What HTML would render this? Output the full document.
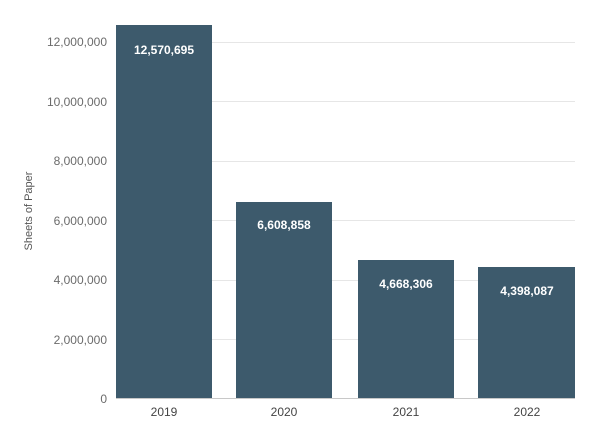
<!DOCTYPE html>
<html><head><meta charset="utf-8"><style>
html,body{margin:0;padding:0;background:#fff;}
svg text{font-family:"Liberation Sans",sans-serif;}
</style></head><body>
<svg width="600" height="432" viewBox="0 0 600 432" xmlns="http://www.w3.org/2000/svg">
<g stroke="#e6e6e6" stroke-width="1">
<line x1="116" x2="575" y1="42.5" y2="42.5"/>
<line x1="116" x2="575" y1="101.5" y2="101.5"/>
<line x1="116" x2="575" y1="161.5" y2="161.5"/>
<line x1="116" x2="575" y1="220.5" y2="220.5"/>
<line x1="116" x2="575" y1="280.5" y2="280.5"/>
<line x1="116" x2="575" y1="339.5" y2="339.5"/>
</g>
<g fill="#6b6b6b" font-size="12" text-anchor="end">
<text x="107" y="46">12,000,000</text>
<text x="107" y="106">10,000,000</text>
<text x="107" y="165">8,000,000</text>
<text x="107" y="225">6,000,000</text>
<text x="107" y="284">4,000,000</text>
<text x="107" y="344">2,000,000</text>
<text x="107" y="403">0</text>
</g>
<text transform="translate(32,211) rotate(-90)" text-anchor="middle" font-size="11" fill="#555">Sheets of Paper</text>
<g fill="#3d5a6c">
<rect x="116" y="25" width="96" height="374"/>
<rect x="236" y="202" width="96" height="197"/>
<rect x="358" y="260" width="96" height="139"/>
<rect x="478" y="267" width="97" height="132"/>
</g>
<line x1="116" x2="575" y1="398.5" y2="398.5" stroke="#c8c8c8"/>
<g fill="#fff" font-size="12" font-weight="bold" text-anchor="middle">
<text x="164" y="54">12,570,695</text>
<text x="284" y="229">6,608,858</text>
<text x="406" y="288">4,668,306</text>
<text x="527" y="295">4,398,087</text>
</g>
<g fill="#444" font-size="12" text-anchor="middle">
<text x="164" y="416">2019</text>
<text x="284" y="416">2020</text>
<text x="406" y="416">2021</text>
<text x="527" y="416">2022</text>
</g>
</svg>
</body></html>
